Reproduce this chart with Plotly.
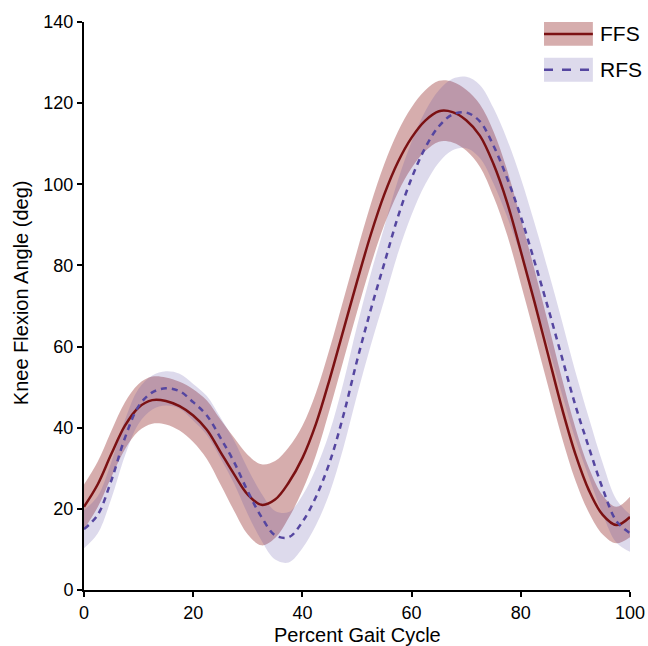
import plotly.graph_objects as go
import numpy as np

# percent gait cycle
gait_pct = [0, 2.5, 5, 7.5, 10, 12.5, 15, 17.5, 20, 22.5, 25, 27.5, 30, 32.5, 35, 37.5, 40,
            42.5, 45, 47.5, 50, 52.5, 55, 57.5, 60, 62.5, 65, 67.5, 70, 72.5, 75, 77.5, 80,
            82.5, 85, 87.5, 90, 92.5, 95, 97.5, 100]

# forefoot strike: mean and sd of knee flexion (deg)
ffs_mean = [20.5, 26, 33.5, 40.5, 45, 46.8, 46.6, 45.3, 43, 39.5, 34, 28.5, 23.5, 21, 22.3, 26.5, 32.5,
            41, 52, 64, 76, 87.5, 97.5, 105.5, 111.5, 115.7, 118, 117.8, 115.8, 112, 105, 95.5, 83.5,
            71, 58, 45, 33.5, 24.5, 18.5, 16, 18]
ffs_sd = [5.5, 5.6, 5.7, 5.8, 5.8, 5.8, 5.8, 6, 6.5, 7.2, 8, 9, 9.8, 10, 9.5, 8.7, 8,
          7.7, 7.5, 7.5, 7.5, 7.5, 7.5, 7.5, 7.5, 7.5, 7.5, 7.5, 7.5, 7.7, 8, 8, 8,
          8, 7.8, 7.3, 6.5, 5.5, 4.8, 4.5, 5]

# rearfoot strike
rfs_mean = [15, 18.5, 27, 37.5, 45.3, 48.7, 49.7, 49, 46.3, 43, 37.5, 31.5, 24.3, 18, 13.5, 13, 16.8,
            23, 31.5, 43, 56.5, 69, 80.5, 92, 101.5, 109, 114.3, 117.2, 117.7, 115.5, 109.5, 101.5, 92,
            81, 69.5, 57.5, 45.5, 35, 25, 17, 14]
rfs_sd = [4.7, 4.6, 4.5, 4.4, 4.3, 4.2, 4.2, 4.3, 4.5, 4.8, 5, 5.3, 5.6, 5.8, 6, 6.2, 6.5,
          7, 7.5, 8, 8.5, 8.8, 9, 9, 9, 9, 8.9, 8.8, 8.8, 9, 9.3, 9.5, 9.5,
          9.5, 9.3, 9, 8.3, 7.3, 6.3, 5.3, 4.6]

FFS_LINE = "#7b1113"
FFS_FILL = "rgba(128,0,0,0.32)"
RFS_LINE = "#5546a0"
RFS_FILL = "rgba(85,70,160,0.2)"
FONT = "Liberation Sans, Arial, sans-serif"


def band(fig, x, mean, sd, fill):
    m, s = np.array(mean), np.array(sd)
    fig.add_trace(go.Scatter(x=x, y=m + s, mode="lines", line=dict(width=0, shape="spline"),
                             showlegend=False, hoverinfo="skip"))
    fig.add_trace(go.Scatter(x=x, y=m - s, mode="lines", line=dict(width=0, shape="spline"),
                             fill="tonexty", fillcolor=fill, showlegend=False, hoverinfo="skip"))


fig = go.Figure()
band(fig, gait_pct, ffs_mean, ffs_sd, FFS_FILL)
band(fig, gait_pct, rfs_mean, rfs_sd, RFS_FILL)
fig.add_trace(go.Scatter(x=gait_pct, y=ffs_mean, mode="lines", name="FFS",
                         line=dict(color=FFS_LINE, width=2.5, shape="spline")))
fig.add_trace(go.Scatter(x=gait_pct, y=rfs_mean, mode="lines", name="RFS",
                         line=dict(color=RFS_LINE, width=2.5, dash="6px,5px", shape="spline")))

# hand-drawn legend (band + line swatches)
shapes = []
annots = []
for i, (lab, fc, lc, dash) in enumerate([("FFS", FFS_FILL, FFS_LINE, "solid"),
                                         ("RFS", RFS_FILL, RFS_LINE, "dash")]):
    y0 = 0.958 - i * 0.063
    y1 = 1.0 - i * 0.063
    ym = (y0 + y1) / 2
    shapes.append(dict(type="rect", xref="paper", yref="paper", x0=0.8425, x1=0.932, y0=y0, y1=y1,
                       fillcolor=fc, line=dict(width=0)))
    shapes.append(dict(type="line", xref="paper", yref="paper", x0=0.8425, x1=0.932, y0=ym, y1=ym,
                       line=dict(color=lc, width=2.5, dash=dash)))
    annots.append(dict(xref="paper", yref="paper", x=0.942, y=ym, text=lab, showarrow=False,
                       xanchor="left", yanchor="middle", font=dict(size=21, color="black", family=FONT)))

# axis titles as annotations so they sit where the reference has them
annots.append(dict(xref="paper", yref="paper", x=0.5, y=-0.079, text="Percent Gait Cycle",
                   showarrow=False, xanchor="center", yanchor="middle",
                   font=dict(size=20, color="black", family=FONT)))
annots.append(dict(xref="paper", yref="paper", x=-0.115, y=0.523, text="Knee Flexion Angle (deg)",
                   showarrow=False, textangle=-90, xanchor="center", yanchor="middle",
                   font=dict(size=20, color="black", family=FONT)))

fig.update_layout(
    width=648, height=646,
    margin=dict(l=84, r=18, t=22, b=56),
    plot_bgcolor="white", paper_bgcolor="white",
    font=dict(family=FONT, size=18, color="black"),
    showlegend=False,
    shapes=shapes, annotations=annots,
    xaxis=dict(range=[0, 100], tickvals=[0, 20, 40, 60, 80, 100], showgrid=False, zeroline=False,
               showline=True, linecolor="black", linewidth=2, ticks="outside", ticklen=5,
               tickwidth=2, tickcolor="black", automargin=False),
    yaxis=dict(range=[0, 140], tickvals=[0, 20, 40, 60, 80, 100, 120, 140], showgrid=False,
               zeroline=False, showline=True, linecolor="black", linewidth=2, ticks="outside",
               ticklen=5, tickwidth=2, tickcolor="black", automargin=False),
)

# drop the default 8px body margin so the 648x646 figure fills the window
fig.write_html("out.html", config={"displayModeBar": False},
               post_script="document.body.style.margin='0';document.body.style.overflow='hidden';")
